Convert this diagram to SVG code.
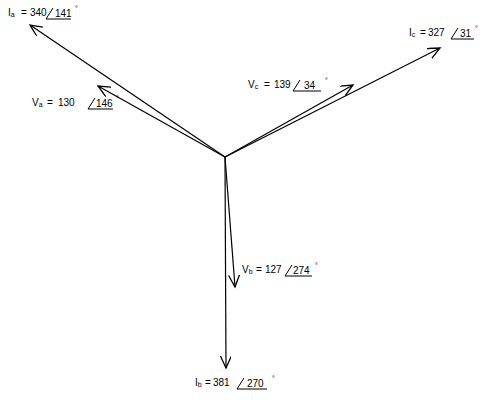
<svg xmlns="http://www.w3.org/2000/svg" width="481" height="400" viewBox="0 0 481 400">
<style>
.t{font-family:"Liberation Sans",Arial,sans-serif;font-size:10px;fill:#000}
.s{font-size:7px}
.d{font-family:"Liberation Sans",Arial,sans-serif;font-size:7px;fill:#000}
.v{stroke:#000;stroke-width:1.2;fill:none}
.ang{stroke:#000;stroke-width:1;fill:none}
</style>
<defs>
<marker id="ah" markerUnits="userSpaceOnUse" markerWidth="14" markerHeight="12" refX="12" refY="5.5" orient="auto">
<path d="M0,0 L12,5.5 L0,11" fill="none" stroke="#000" stroke-width="1.3"/>
</marker>
</defs>
<rect width="481" height="400" fill="#fff"/>
<g id="connectors">
<line class="v" x1="225" y1="157" x2="30" y2="25" marker-end="url(#ah)"/>
<line class="v" x1="225" y1="157" x2="98" y2="86" marker-end="url(#ah)"/>
<line class="v" x1="225" y1="157" x2="353" y2="85" marker-end="url(#ah)"/>
<line class="v" x1="225" y1="157" x2="440" y2="48" marker-end="url(#ah)"/>
<line class="v" x1="225" y1="157" x2="235" y2="287" marker-end="url(#ah)"/>
<line class="v" x1="225" y1="157" x2="226" y2="368" marker-end="url(#ah)"/>
</g>
<g id="Ia">
<text class="t" x="8" y="16">I<tspan class="s" dy="1">a</tspan></text>
<text class="t" x="21" y="16">=</text>
<text class="t" x="30" y="16">340</text>
<path class="ang" d="M46,19 L53,8 M46,19 L71,19"/>
<text class="t" x="55" y="17">141</text>
<text class="d" x="75" y="11">°</text>
</g>
<g id="Va">
<text class="t" x="32" y="106">V<tspan class="s" dy="1">a</tspan></text>
<text class="t" x="47" y="106">=</text>
<text class="t" x="58" y="106">130</text>
<path class="ang" d="M88,109 L95,98 M88,109 L113,109"/>
<text class="t" x="96" y="107">146</text>
<text class="d" x="116" y="101">°</text>
</g>
<g id="Vc">
<text class="t" x="248" y="88">V<tspan class="s" dy="1">c</tspan></text>
<text class="t" x="264" y="88">=</text>
<text class="t" x="274" y="88">139</text>
<path class="ang" d="M293,91 L300,80 M293,91 L321,91"/>
<text class="t" x="304" y="89">34</text>
<text class="d" x="325" y="83">°</text>
</g>
<g id="Ic">
<text class="t" x="409" y="36">I<tspan class="s" dy="1">c</tspan></text>
<text class="t" x="420" y="36">=</text>
<text class="t" x="428" y="36">327</text>
<path class="ang" d="M451,39 L458,28 M451,39 L474,39"/>
<text class="t" x="460" y="37">31</text>
<text class="d" x="475" y="31">°</text>
</g>
<g id="Vb">
<text class="t" x="242" y="273">V<tspan class="s" dy="1">b</tspan></text>
<text class="t" x="256" y="273">=</text>
<text class="t" x="265" y="273">127</text>
<path class="ang" d="M285,276 L292,265 M285,276 L312,276"/>
<text class="t" x="293" y="274">274</text>
<text class="d" x="315" y="268">°</text>
</g>
<g id="Ib">
<text class="t" x="195" y="386">I<tspan class="s" dy="1">b</tspan></text>
<text class="t" x="205" y="386">=</text>
<text class="t" x="213" y="386">381</text>
<path class="ang" d="M237,389 L244,378 M237,389 L267,389"/>
<text class="t" x="247" y="387">270</text>
<text class="d" x="272" y="381">°</text>
</g>
</svg>
